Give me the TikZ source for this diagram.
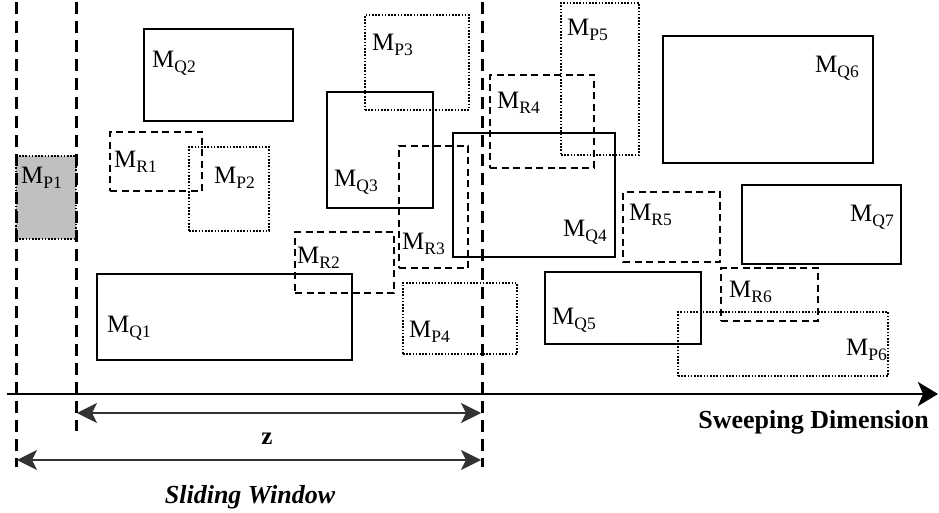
\documentclass[tikz,border=0pt]{standalone}
\usepackage{fontspec}
\setmainfont{Liberation Serif}
\usepackage{tikz}
\usetikzlibrary{arrows.meta, positioning, fit}
\usepackage{xcolor}
\definecolor{mbrgray}{HTML}{C0C0C0}

\newcommand{\mbr}[1]{M\raisebox{-4.5pt}{\fontsize{17.5}{17.5}\selectfont #1}}

\begin{document}
\begin{tikzpicture}[
    x=1pt, y=-1pt,
    every node/.style={font=\fontsize{25}{28}\selectfont},
    qbox/.style={rectangle, draw, line width=1.9pt, inner sep=0pt},
    rbox/.style={rectangle, draw, line width=2pt, dash pattern=on 7pt off 4.5pt, inner sep=0pt},
    pbox/.style={rectangle, draw, line width=2pt, dash pattern=on 1.6pt off 1.6pt, inner sep=0pt},
    lbl/.style={inner sep=0pt, anchor=west},
    winline/.style={line width=3pt, dash pattern=on 12pt off 7pt},
    arrow/.style={{Stealth[length=20pt, width=20pt, inset=5pt]}-{Stealth[length=20pt, width=20pt, inset=5pt]}, line width=1.6pt, black!80}
]
\useasboundingbox (0,0) rectangle (939,513);

% Current MBR of P
\node[pbox, fill=mbrgray, fit={(16,156) (76,239)}] (p1) {};
\node[lbl] at (21,178) {\mbr{P1}};

% MBRs of Q
\node[qbox, fit={(97,274) (352,360)}] (q1) {};
\node[qbox, fit={(144,29) (293,121)}] (q2) {};
\node[qbox, fit={(327,92) (433,208)}] (q3) {};
\node[qbox, fit={(453,133) (615,257)}] (q4) {};
\node[qbox, fit={(545,272) (701,344)}] (q5) {};
\node[qbox, fit={(663,36) (873,163)}] (q6) {};
\node[qbox, fit={(742,185) (901,264)}] (q7) {};

% MBRs of R
\node[rbox, fit={(110,132) (202,191)}] (r1) {};
\node[rbox, fit={(295,232) (394,293)}] (r2) {};
\node[rbox, fit={(399,146) (468,268)}] (r3) {};
\node[rbox, fit={(490,75) (594,168)}] (r4) {};
\node[rbox, fit={(623,192) (720,262)}] (r5) {};
\node[rbox, fit={(721,268) (818,321)}] (r6) {};

% MBRs of P
\node[pbox, fit={(189,147) (269,231)}] (p2) {};
\node[pbox, fit={(365,15) (469,110)}] (p3) {};
\node[pbox, fit={(403,283) (517,354)}] (p4) {};
\node[pbox, fit={(561,3) (639,155)}] (p5) {};
\node[pbox, fit={(678,312) (888,376)}] (p6) {};

% Labels
\node[lbl] at (107,328) {\mbr{Q1}};
\node[lbl] at (152,63) {\mbr{Q2}};
\node[lbl] at (334,182) {\mbr{Q3}};
\node[lbl, anchor=east] at (607,232) {\mbr{Q4}};
\node[lbl] at (552,320) {\mbr{Q5}};
\node[lbl, anchor=east] at (859,68) {\mbr{Q6}};
\node[lbl, anchor=east] at (894,217) {\mbr{Q7}};
\node[lbl] at (114,162) {\mbr{R1}};
\node[lbl] at (297,258) {\mbr{R2}};
\node[lbl] at (402,244) {\mbr{R3}};
\node[lbl] at (497,103) {\mbr{R4}};
\node[lbl] at (629,215) {\mbr{R5}};
\node[lbl] at (729,292) {\mbr{R6}};
\node[lbl] at (214,178) {\mbr{P2}};
\node[lbl] at (372,45) {\mbr{P3}};
\node[lbl] at (409,332) {\mbr{P4}};
\node[lbl] at (567,30) {\mbr{P5}};
\node[lbl, anchor=east] at (887,350) {\mbr{P6}};

% Sweeping axis
\coordinate (axstart) at (7,394);
\coordinate (axend) at (938,394);
\draw[line width=2.7pt, -{Stealth[length=20pt, width=24pt, inset=5pt]}] (axstart) -- (axend);
\node[font=\fontsize{26}{28}\selectfont\bfseries, anchor=base east, inner sep=0pt] (sweep) at (929,428) {Sweeping Dimension};

% Window borders
\coordinate (watop) at (16,2);
\coordinate (wabot) at (16,467);
\coordinate (wbtop) at (76,2);
\coordinate (wbbot) at (76,431);
\coordinate (wctop) at (482,2);
\coordinate (wcbot) at (482,467);
\draw[winline] (watop) -- (wabot);
\draw[winline] (wbtop) -- (wbbot);
\draw[winline] (wctop) -- (wcbot);

% Distances
\coordinate (zl) at (77,413);
\coordinate (zr) at (481,413);
\coordinate (sl) at (17,460);
\coordinate (sr) at (481,460);
\draw[arrow] (zl) -- (zr);
\node[font=\fontsize{25}{27}\selectfont\bfseries, anchor=base, inner sep=0pt] (z) at (267,444) {z};
\draw[arrow] (sl) -- (sr);
\node[font=\fontsize{26}{28}\selectfont\bfseries\itshape, anchor=base, inner sep=0pt] (slide) at (250,503) {Sliding Window};

\end{tikzpicture}
\end{document}
